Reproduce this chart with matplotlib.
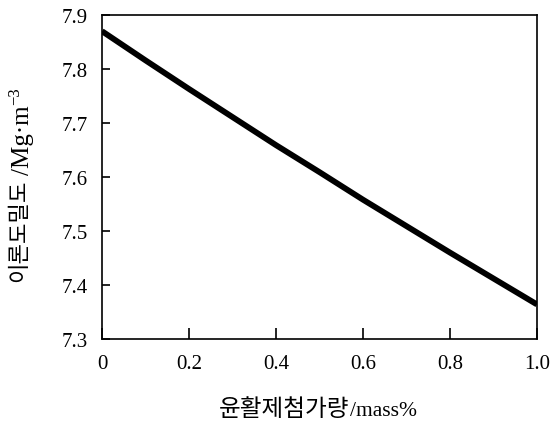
import matplotlib
matplotlib.use("Agg")
import matplotlib.pyplot as plt
from matplotlib.transforms import IdentityTransform

# Data
lubricant = [0.0, 0.1, 0.2, 0.3, 0.4, 0.5, 0.6, 0.7, 0.8, 0.9, 1.0]
density = [7.870, 7.816, 7.763, 7.711, 7.659, 7.609, 7.558, 7.509, 7.460, 7.412, 7.364]
xticks = [0, 0.2, 0.4, 0.6, 0.8, 1.0]
xticklabels = ["0", "0.2", "0.4", "0.6", "0.8", "1.0"]
yticks = [7.3, 7.4, 7.5, 7.6, 7.7, 7.8, 7.9]
yticklabels = ["7.3", "7.4", "7.5", "7.6", "7.7", "7.8", "7.9"]
xlabel_ko = "윤활제첨가량"
xlabel_unit = "/mass%"
ylabel_ko = "이론도밀도"
ylabel_unit = "/Mg·m"
ylabel_exp = "−3"

SERIF = ["Liberation Serif", "DejaVu Serif"]
KO = ["Noto Sans CJK KR", "DejaVu Sans"]
plt.rcParams["font.family"] = SERIF

W, H = 551, 427
fig = plt.figure(figsize=(W / 100, H / 100), dpi=100)
ax = fig.add_axes([102 / W, 1 - 340 / H, 435 / W, 324 / H])

ax.plot(lubricant, density, color="black", linewidth=4.2, solid_capstyle="butt")
ax.set_xlim(0, 1.0)
ax.set_ylim(7.3, 7.9)
ax.set_xticks(xticks)
ax.set_xticklabels(xticklabels)
ax.set_yticks(yticks)
ax.set_yticklabels(yticklabels)
ax.tick_params(axis="both", direction="in", labelsize=15, width=1.2, colors="black")
ax.tick_params(axis="y", length=6, pad=10)
ax.tick_params(axis="x", length=8, pad=11)
for s in ax.spines.values():
    s.set_linewidth(1.2)

renderer = fig.canvas.get_renderer()
ident = IdentityTransform()

# x label: pieces laid out left to right on a common baseline (pixel coords)
xpos = 219
base_y = H - 416
for txt, fam, size, gap in [(xlabel_ko, KO, 17, 0), (xlabel_unit, SERIF, 15.5, 1)]:
    t = fig.text(xpos + gap, base_y, txt, family=fam, fontsize=size,
                 ha="left", va="baseline", transform=ident)
    xpos = t.get_window_extent(renderer).x1

# y label: pieces laid out bottom to top, rotated 90 degrees
ypos = H - 282
for txt, fam, size, bx, gap in [(ylabel_ko, KO, 16, 25, 0),
                                (ylabel_unit, SERIF, 18, 29, 4),
                                (ylabel_exp, SERIF, 12, 19, 1)]:
    t = fig.text(bx, ypos + gap, txt, family=fam, fontsize=size, rotation=90,
                 rotation_mode="anchor", ha="left", va="baseline", transform=ident)
    ypos = t.get_window_extent(renderer).y1

fig.savefig("out.png", dpi=100)
